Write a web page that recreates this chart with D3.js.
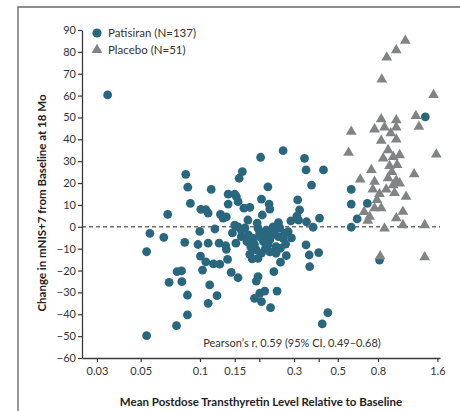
<!DOCTYPE html>
<html>
<head>
<meta charset="utf-8">
<script src="https://cdn.jsdelivr.net/npm/d3@7"></script>
<style>
  html, body { margin: 0; padding: 0; background: #fff; }
  svg { display: block; font-family: Lato, "Open Sans", sans-serif; }
</style>
</head>
<body>
<svg id="chart" width="460" height="411"></svg>
<script>
// Patisiran: mean postdose TTR relative to baseline, change in mNIS+7 at 18 months
const patisiranTTR = [
  0.034, 0.0557, 0.0536, 0.0536, 0.0655, 0.0837, 0.0977, 0.0997, 0.110, 0.1005,
  0.107, 0.0765, 0.0806, 0.0697, 0.0809, 0.103, 0.0864, 0.112, 0.110, 0.0864,
  0.0760, 0.0847, 0.0867, 0.114, 0.0894, 0.101, 0.107, 0.110, 0.0686, 0.139,
  0.150, 0.139, 0.158, 0.164, 0.127, 0.131, 0.136, 0.119, 0.125, 0.135,
  0.136, 0.152, 0.138, 0.203, 0.264, 0.339, 0.345, 0.423, 0.368, 0.221,
  0.205, 0.224, 0.226, 0.207, 0.313, 0.320, 0.310, 0.289, 0.347, 0.375,
  0.404, 0.153, 0.156, 0.167, 0.179, 0.156, 0.162, 0.235, 0.250, 0.345,
  0.400, 0.358, 0.316, 0.150, 0.197, 0.217, 0.269, 0.280, 0.162, 0.176,
  0.187, 0.201, 0.217, 0.232, 0.250, 0.264, 0.173, 0.189, 0.210, 0.221,
  0.243, 0.256, 0.193, 0.215, 0.179, 0.184, 0.197, 0.243, 0.274, 0.256,
  0.117, 0.126, 0.144, 0.156, 0.237, 0.197, 0.193, 0.122, 0.201, 0.213,
  0.246, 0.189, 0.205, 0.228, 0.360, 0.445, 0.417, 0.585, 0.585, 0.706,
  0.627, 0.585, 0.814, 1.39, 0.169, 0.205, 0.226, 0.239, 0.181, 0.205,
  0.226, 0.272, 0.291, 0.146, 0.175, 0.195, 0.254
];
const patisiranChange = [
  60.3, -3.0, -11.4, -49.8, -4.8, -7.1, -8.1, -2.1, -7.5, -13.4,
  -16.0, -20.5, -20.2, -25.4, -25.1, -19.8, -31.2, -26.6, -35.0, -40.3,
  -45.2, 24.0, 18.1, 17.1, 10.7, 8.0, 7.9, 6.3, 5.7, 14.9,
  14.9, 10.4, 22.2, 25.2, 5.7, 4.0, 4.5, -1.0, -7.5, -8.6,
  -10.3, -7.5, -14.9, 31.8, 34.8, 31.3, 26.0, 26.0, 19.1, 18.3,
  12.7, 10.4, 8.1, 5.4, 12.3, 7.7, 4.9, 2.7, 2.3, -0.2,
  4.0, 13.8, 11.5, 8.5, 8.9, 0.0, -1.5, 0.0, 1.9, -8.3,
  -11.8, -12.9, 3.1, 0.8, -0.7, -1.5, -3.0, -2.2, -4.5, -3.7,
  -5.3, -3.0, -4.5, -3.7, -4.5, -5.3, -6.8, -8.0, -6.8, -8.3,
  -9.1, -9.8, -10.6, -9.8, -12.6, -14.7, -14.4, -12.1, -13.2, -16.2,
  -17.0, -17.1, -20.8, -23.3, -20.5, -22.8, -24.8, -31.5, -30.4, -29.4,
  -29.4, -32.7, -34.2, -37.0, -18.2, -39.3, -44.4, 17.1, 10.4, 10.7,
  3.6, -0.2, -15.2, 50.3, -0.5, -5.1, -6.0, -1.5, -9.2, -12.0,
  -11.5, -7.9, -5.1, -2.8, 3.1, 1.7, -0.5
];

// Placebo
const placeboTTR = [
  1.10, 0.99, 0.886, 0.836, 1.53, 1.245, 1.29, 0.83, 0.99, 0.768,
  0.863, 0.99, 0.928, 0.585, 0.83, 0.99, 0.567, 0.85, 0.955, 1.03,
  1.58, 0.915, 1.0, 1.22, 0.65, 0.768, 0.99, 0.955, 1.03, 0.753,
  0.88, 0.814, 1.11, 0.768, 0.83, 1.07, 0.725, 0.99, 0.71, 1.07,
  0.863, 1.38, 0.82, 1.38, 0.90, 0.94, 0.79, 0.97, 0.90, 0.74,
  0.68
];
const placeboChange = [
  85.1, 80.8, 77.5, 67.4, 60.3, 50.7, 45.8, 49.2, 48.8, 44.6,
  45.5, 45.5, 42.8, 43.5, 39.4, 40.0, 33.9, 31.3, 32.0, 32.8,
  33.1, 27.8, 28.3, 24.1, 21.7, 20.6, 21.1, 19.1, 19.9, 17.1,
  17.1, 15.0, 13.8, 8.5, 8.5, 6.9, 4.6, 3.9, 2.8, 0.8,
  -0.7, 0.8, -13.4, -13.9, 35.1, 25.1, 12.3, 15.5, 22.3, 26.0,
  6.8
];

const xTickValues = [0.03, 0.05, 0.1, 0.15, 0.2, 0.3, 0.4, 0.5, 0.8, 1.6];
const xTickLabels = ["0.03", "0.05", "0.1", "0.15", "", "0.3", "", "0.5", "0.8", "1.6"];
const yTickValues = [90, 80, 70, 60, 50, 40, 30, 20, 10, 0, -10, -20, -30, -40, -50, -60];

const seriesNames = ["Patisiran (N=137)", "Placebo (N=51)"];
const texts = {
  xTitle: "Mean Postdose Transthyretin Level Relative to Baseline",
  yTitle: "Change in mNIS+7 from Baseline at 18 Mo",
  pearson: "Pearson\u2019s r, 0.59 (95% CI, 0.49\u20130.68)"
};

const teal = "#29677f";
const grey = "#818384";
const axisColor = "#3a3a3a";

const svg = d3.select("#chart");

// Outer panel frame
svg.append("path")
  .attr("d", "M18,411 L18,7 L460,7")
  .attr("fill", "none")
  .attr("stroke", "#6a6a6a")
  .attr("stroke-width", 1.4);

const x = d3.scaleLog().domain([0.0252, 1.65]).range([82, 440]);
const y = d3.scaleLinear().domain([-60, 90]).range([358, 30]);

// Zero reference line
svg.append("line")
  .attr("x1", x.range()[0]).attr("x2", x.range()[1])
  .attr("y1", y(0)).attr("y2", y(0))
  .attr("stroke", "#6e6e6e")
  .attr("stroke-width", 1.4)
  .attr("stroke-dasharray", "4,3");

// Axes
const fmtMinus = v => (v < 0 ? "\u2212" + Math.abs(v) : String(v));

const yAxis = svg.append("g")
  .attr("transform", `translate(${x.range()[0]},0)`)
  .call(d3.axisLeft(y).tickValues(yTickValues).tickFormat(fmtMinus).tickSize(4).tickSizeOuter(0).tickPadding(2));

const xAxis = svg.append("g")
  .attr("transform", `translate(0,${y(-60)})`)
  .call(d3.axisBottom(x).tickValues(xTickValues)
    .tickFormat((d, i) => xTickLabels[i]).tickSize(4).tickSizeOuter(0).tickPadding(5));

[xAxis, yAxis].forEach(g => {
  g.select(".domain").attr("stroke", axisColor).attr("stroke-width", 1.3);
  g.selectAll(".tick line").attr("stroke", axisColor).attr("stroke-width", 1.2);
  g.selectAll(".tick text")
    .attr("fill", "#333")
    .style("font-family", "Lato, 'Open Sans', sans-serif")
    .style("font-size", "11px");
});

// Axis titles
svg.append("text")
  .attr("x", 261).attr("y", 406)
  .attr("text-anchor", "middle")
  .style("font-size", "11.5px")
  .style("font-weight", "bold")
  .attr("fill", "#222")
  .text(texts.xTitle);

svg.append("text")
  .attr("transform", "translate(46,203) rotate(-90)")
  .attr("text-anchor", "middle")
  .style("font-size", "11.5px")
  .style("font-weight", "bold")
  .attr("fill", "#222")
  .text(texts.yTitle);

// Points
const patisiran = patisiranTTR.map((v, i) => ({ ttr: v, change: patisiranChange[i] }));
const placebo = placeboTTR.map((v, i) => ({ ttr: v, change: placeboChange[i] }));

svg.append("g").selectAll("circle")
  .data(patisiran)
  .join("circle")
  .attr("cx", d => x(d.ttr))
  .attr("cy", d => y(d.change))
  .attr("r", 4.4)
  .attr("fill", teal);

const tri = d3.symbol().type(d3.symbolTriangle).size(50);
svg.append("g").selectAll("path")
  .data(placebo)
  .join("path")
  .attr("d", tri)
  .attr("transform", d => `translate(${x(d.ttr)},${y(d.change)})`)
  .attr("fill", grey);

// Legend
const legend = svg.append("g").attr("transform", "translate(97,33)");
legend.append("circle").attr("cx", 0).attr("cy", 0).attr("r", 4.6).attr("fill", teal);
legend.append("path").attr("d", tri).attr("transform", "translate(0,17)").attr("fill", grey);
legend.selectAll("text")
  .data(seriesNames)
  .join("text")
  .attr("x", 11)
  .attr("y", (d, i) => i * 17)
  .attr("dy", "0.35em")
  .style("font-size", "11.5px")
  .attr("fill", "#333")
  .text(d => d);

// Correlation note
svg.append("text")
  .attr("x", 292).attr("y", 347)
  .attr("text-anchor", "middle")
  .style("font-size", "11px")
  .attr("fill", "#333")
  .text(texts.pearson);
</script>
</body>
</html>
